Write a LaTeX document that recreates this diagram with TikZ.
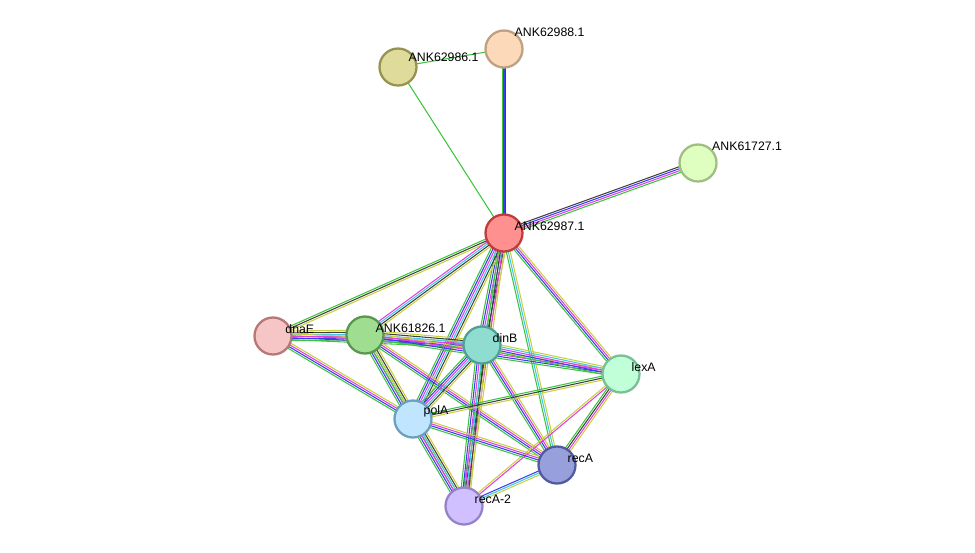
\documentclass[tikz,border=0pt]{standalone}
\usepackage{fontspec}
\setmainfont{Liberation Sans}
\usetikzlibrary{calc, backgrounds}
\definecolor{stgreen}{HTML}{3CC43C}
\definecolor{stblue}{HTML}{3C3CF0}
\definecolor{stblack}{HTML}{404040}
\definecolor{stmag}{HTML}{E040E0}
\definecolor{stcyan}{HTML}{40C8E8}
\definecolor{styellow}{HTML}{C8D040}
\tikzstyle{prot} = [circle, minimum size=0.74cm, inner sep=0pt, line width=1.3pt]
\tikzstyle{lab} = [font=\fontsize{7}{8}\selectfont, inner sep=1pt]
\newcommand{\linkab}[3]{%
  \foreach \c [count=\n] in {#3} {\xdef\nn{\n}}
  \foreach \c [count=\i] in {#3} {
    \pgfmathsetmacro\o{((\i-1)-(\nn-1)/2)*1.1}
    \draw[\c, line width=0.6pt] ($(#1)!{\o pt}!90:(#2)$) -- ($(#2)!{\o pt}!-90:(#1)$);
  }}
\begin{document}
\begin{tikzpicture}[x=0.02cm, y=-0.02cm]
\useasboundingbox (0,0) rectangle (975,552);
\node [prot, fill={rgb,255:red,223;green,219;blue,154}, draw={rgb,255:red,150;green,146;blue,80}, label={[lab, anchor=south west, xshift=-3pt, yshift=-6pt]45:ANK62986.1}] (ank62986) at (398,67) {};
\node [prot, fill={rgb,255:red,252;green,217;blue,184}, draw={rgb,255:red,190;green,160;blue,130}, label={[lab, anchor=south west, xshift=-3pt, yshift=-2pt]45:ANK62988.1}] (ank62988) at (504,49) {};
\node [prot, fill={rgb,255:red,223;green,255;blue,192}, draw={rgb,255:red,160;green,190;blue,130}, label={[lab, anchor=south west, xshift=-1pt, yshift=-2pt]45:ANK61727.1}] (ank61727) at (698,163) {};
\node [prot, fill={rgb,255:red,255;green,144;blue,144}, draw={rgb,255:red,190;green,60;blue,60}, label={[lab, anchor=south west, xshift=-3pt, yshift=-8pt]45:ANK62987.1}] (ank62987) at (504,233) {};
\node [prot, fill={rgb,255:red,246;green,197;blue,197}, draw={rgb,255:red,180;green,120;blue,120}, label={[lab, anchor=south west, xshift=-2pt, yshift=-8pt]45:dnaE}] (dnae) at (273,336) {};
\node [prot, fill={rgb,255:red,159;green,221;blue,144}, draw={rgb,255:red,90;green,150;blue,80}, label={[lab, anchor=south west, xshift=-3pt, yshift=-8pt]45:ANK61826.1}] (ank61826) at (365,335) {};
\node [prot, fill={rgb,255:red,143;green,220;blue,208}, draw={rgb,255:red,80;green,160;blue,150}, label={[lab, anchor=south west, xshift=-3pt, yshift=-8pt]45:dinB}] (dinb) at (482,345) {};
\node [prot, fill={rgb,255:red,192;green,255;blue,216}, draw={rgb,255:red,120;green,190;blue,150}, label={[lab, anchor=south west, xshift=-3pt, yshift=-8pt]45:lexA}] (lexa) at (621,374) {};
\node [prot, fill={rgb,255:red,192;green,230;blue,255}, draw={rgb,255:red,110;green,160;blue,190}, label={[lab, anchor=south west, xshift=-3pt, yshift=-8pt]45:polA}] (pola) at (413,419) {};
\node [prot, fill={rgb,255:red,152;green,160;blue,220}, draw={rgb,255:red,80;green,90;blue,160}, label={[lab, anchor=south west, xshift=-3pt, yshift=-8pt]45:recA}] (reca) at (557,465) {};
\node [prot, fill={rgb,255:red,208;green,192;blue,255}, draw={rgb,255:red,150;green,130;blue,200}, label={[lab, anchor=south west, xshift=-3pt, yshift=-8pt]45:recA-2}] (reca2) at (464,506) {};
\begin{pgfonlayer}{background}
\linkab{ank62986}{ank62988}{stgreen}
\linkab{ank62986}{ank62987}{stgreen}
\linkab{ank62988}{ank62987}{stgreen,stblue,stblack}
\linkab{ank61727}{ank62987}{stblack,stblue,stmag,stgreen}
\linkab{ank62987}{dnae}{stgreen,stblack,styellow}
\linkab{ank62987}{ank61826}{stmag,stcyan,stblack,styellow}
\linkab{ank62987}{dinb}{stgreen,stblue,stmag,stcyan,stblack,styellow}
\linkab{ank62987}{lexa}{stgreen,stblue,stmag,styellow}
\linkab{ank62987}{pola}{stgreen,stblue,stmag,stcyan,stblack,styellow}
\linkab{ank62987}{reca}{stgreen,stcyan,styellow}
\linkab{ank62987}{reca2}{stgreen,stblack,stmag,styellow}
\linkab{dnae}{ank61826}{stgreen,stblue,stmag,stcyan,stblack,styellow}
\linkab{dnae}{dinb}{stgreen,stblue,stmag,styellow}
\linkab{dnae}{pola}{stgreen,stblue,stmag,styellow}
\linkab{ank61826}{dinb}{stgreen,stblue,stmag,stcyan,stblack,styellow}
\linkab{ank61826}{lexa}{stgreen,stblue,stmag,styellow}
\linkab{ank61826}{pola}{stgreen,stblue,stmag,stcyan,stblack,styellow}
\linkab{ank61826}{reca}{stgreen,stblue,stmag,styellow}
\linkab{ank61826}{reca2}{stgreen,styellow}
\linkab{dinb}{lexa}{stgreen,stblue,stmag,stcyan,styellow}
\linkab{dinb}{pola}{stgreen,stblue,stmag,stcyan,stblack,styellow}
\linkab{dinb}{reca}{stgreen,stblue,stmag,styellow}
\linkab{dinb}{reca2}{stgreen,stblue,stmag,stcyan,stblack,styellow}
\linkab{lexa}{pola}{stgreen,stblack,styellow}
\linkab{lexa}{reca}{stgreen,stblack,stmag,styellow}
\linkab{lexa}{reca2}{styellow,stmag}
\linkab{pola}{reca}{stgreen,stblue,stmag,styellow}
\linkab{pola}{reca2}{stgreen,stblue,stmag,stcyan,stblack,styellow}
\linkab{reca}{reca2}{stblue,stcyan,styellow}
\end{pgfonlayer}
\end{tikzpicture}
\end{document}
